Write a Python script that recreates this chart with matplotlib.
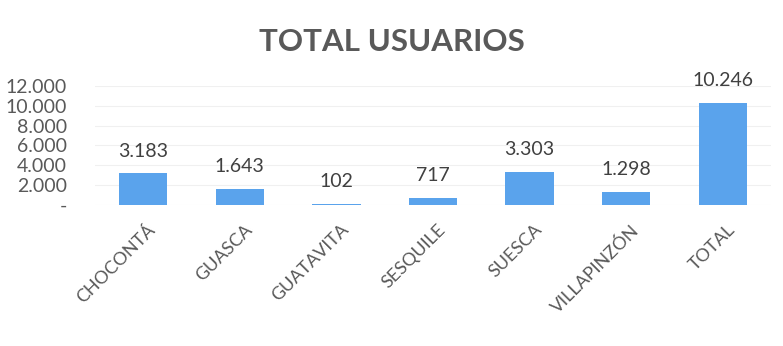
import matplotlib.pyplot as plt
import matplotlib.transforms as mtransforms
from matplotlib.ticker import FuncFormatter, MultipleLocator

municipios = ["CHOCONTÁ", "GUASCA", "GUATAVITA", "SESQUILE", "SUESCA", "VILLAPINZÓN", "TOTAL"]
usuarios = [3183, 1643, 102, 717, 3303, 1298, 10246]

plt.rcParams["font.family"] = ["Lato", "DejaVu Sans"]
gris = "#595959"


def miles(v):
    # formato con punto de miles, cero como guion
    if v == 0:
        return "-"
    return f"{int(v):,}".replace(",", ".")


fig = plt.figure(figsize=(7.83, 3.46), dpi=100)
ax = fig.add_axes([0.121, 0.4075, 0.864, 0.344])

x = range(len(municipios))
bars = ax.bar(x, usuarios, width=0.5, color="#5AA3EC", zorder=2)

for b, v in zip(bars, usuarios):
    ax.annotate(miles(v), (b.get_x() + b.get_width() / 2, v),
                xytext=(0, 10), textcoords="offset points",
                ha="center", va="bottom", fontsize=14, color="#404040")

ax.set_xlim(-0.5, len(municipios) - 0.5)
ax.set_ylim(0, 12000)
ax.yaxis.set_major_locator(MultipleLocator(2000))
ax.yaxis.set_major_formatter(FuncFormatter(lambda v, p: miles(v)))
ax.grid(axis="y", color="#f0f0f0", linewidth=0.8, zorder=0)

ax.set_xticks(list(x))
ax.set_xticklabels(municipios, rotation=45, ha="right", rotation_mode="anchor",
                   fontsize=13, color=gris)
ax.tick_params(axis="x", length=0, pad=12)
ax.tick_params(axis="y", length=0, labelsize=14, labelcolor=gris, pad=20)

# mover las etiquetas rotadas un poco a la derecha
offset = mtransforms.ScaledTranslation(3 / 72, 0, fig.dpi_scale_trans)
for lbl in ax.get_xticklabels():
    lbl.set_transform(lbl.get_transform() + offset)

for s in ax.spines.values():
    s.set_visible(False)

fig.text(0.5, 0.88, "TOTAL USUARIOS", ha="center", va="center",
         fontsize=22.5, fontweight="bold", color=gris)

fig.savefig("out.png", dpi=100, facecolor="white")
